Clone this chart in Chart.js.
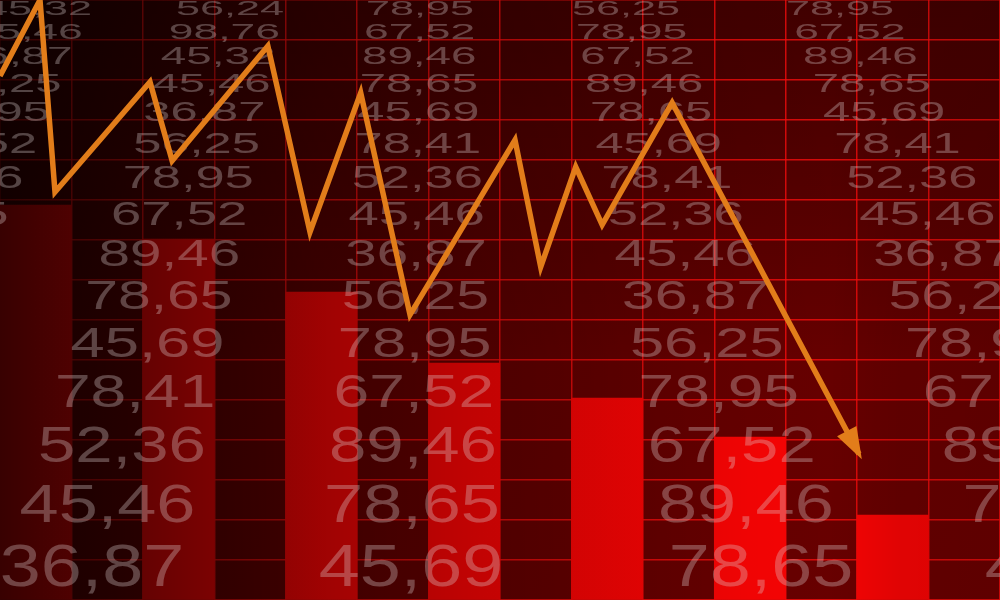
<!DOCTYPE html>
<html>
<head>
<meta charset="utf-8">
<style>
html,body{margin:0;padding:0;background:#000;overflow:hidden}
#wrap{width:1000px;height:600px;position:relative}
canvas{display:block}
</style>
<script src="https://cdn.jsdelivr.net/npm/chart.js@4/dist/chart.umd.min.js"></script>
</head>
<body>
<div id="wrap"><canvas id="c" width="1000" height="600"></canvas></div>
<script>
// ---------- data ----------
const categories = ['P1','P2','P3','P4','P5','P6','P7','P8','P9','P10','P11','P12','P13','P14'];
const barValues  = [9.875, null, 9.025, null, 7.7, null, 5.925, null, 5.05, null, 4.075, null, 2.125, null];
const lineX = [0, 0.56, 0.77, 2.10, 2.41, 3.75, 4.34, 5.05, 5.74, 7.21, 7.57, 8.06, 8.43, 9.41, 12.026];
const lineY = [13.1, 15.0, 10.2, 12.95, 10.98, 13.85, 9.2, 12.68, 7.13, 11.5, 8.33, 10.83, 9.38, 12.43, 3.65];
const tickerValues = ['56,24','98,76','45,32','45,46','36,87','56,25','78,95','67,52','89,46','78,65','45,69','78,41','52,36','45,46','36,87','56,25','78,95','67,52','89,46','78,65','45,69'];
const columnStart = [2, 0, 6, 5, 6];

// ---------- layout (decorative ticker columns) ----------
const colTopX = [38, 230, 420, 626, 840];
const colBottomX = [-227, 92, 411, 761, 1077];
const ROWS = 15;

function lineMeta(chart) {
  for (let i = 0; i < chart.data.datasets.length; i++) {
    const m = chart.getDatasetMeta(i);
    if (m.type === 'line') return m;
  }
  return null;
}

const decoPlugin = {
  id: 'deco',
  beforeDraw(chart) {
    const {ctx, width, height} = chart;
    ctx.save();
    let g = ctx.createLinearGradient(0, 0, width, height);
    g.addColorStop(0, '#5c0000');
    g.addColorStop(1, '#6e0000');
    ctx.fillStyle = g;
    ctx.fillRect(0, 0, width, height);
    g = ctx.createLinearGradient(0, 0, 0, height);
    g.addColorStop(0, 'rgba(0,0,0,0.35)');
    g.addColorStop(0.6, 'rgba(0,0,0,0)');
    ctx.fillStyle = g;
    ctx.fillRect(0, 0, width, height);
    ctx.restore();
  },
  beforeDatasetDraw(chart, args) {
    if (args.meta.type === 'line') return false;
  },
  afterDraw(chart) {
    const {ctx, width, height} = chart;
    ctx.save();
    // shading
    let g = ctx.createLinearGradient(0, 0, width, 0);
    g.addColorStop(0, 'rgba(0,0,0,0.78)');
    g.addColorStop(0.18, 'rgba(0,0,0,0.56)');
    g.addColorStop(0.32, 'rgba(0,0,0,0.38)');
    g.addColorStop(0.465, 'rgba(0,0,0,0.25)');
    g.addColorStop(0.61, 'rgba(0,0,0,0.15)');
    g.addColorStop(0.75, 'rgba(0,0,0,0.06)');
    g.addColorStop(0.83, 'rgba(0,0,0,0.04)');
    g.addColorStop(0.9, 'rgba(0,0,0,0.12)');
    g.addColorStop(1, 'rgba(0,0,0,0.14)');
    ctx.fillStyle = g;
    ctx.fillRect(0, 0, width, height);

    // ticker text
    ctx.fillStyle = 'rgba(225,212,212,0.32)';
    ctx.textAlign = 'center';
    ctx.textBaseline = 'alphabetic';
    for (let c = 0; c < columnStart.length; c++) {
      for (let k = 0; k < ROWS; k++) {
        const txt = tickerValues[columnStart[c] + k];
        if (!txt) continue;
        const dy = 23 * Math.pow(1.08, k);
        const cy = 8 + 23 * (Math.pow(1.08, k) - 1) / 0.08;
        const t = (cy - 8) / 557;
        const cx = colTopX[c] + (colBottomX[c] - colTopX[c]) * t;
        const h = 0.62 * dy;
        const fs = h / 0.716;
        const W = 108 + (dy - 23) * 72 / 42;
        ctx.font = fs.toFixed(2) + 'px "Liberation Sans", Arial, sans-serif';
        const nat = ctx.measureText(txt).width;
        const sx = W / nat;
        ctx.save();
        ctx.translate(cx, cy + h / 2);
        ctx.scale(sx, 1);
        ctx.fillText(txt, 0, 0);
        ctx.restore();
      }
    }
    ctx.restore();

    // line drawn on top
    const meta = lineMeta(chart);
    if (!meta) return;
    meta.controller.draw();

    // arrow head
    const pts = meta.data;
    const p = pts[pts.length - 1], q = pts[pts.length - 2];
    let ux = p.x - q.x, uy = p.y - q.y;
    const L = Math.hypot(ux, uy); ux /= L; uy /= L;
    const nx = -uy, ny = ux;
    const tx = p.x + ux * 6, ty = p.y + uy * 6;
    const bx = tx - ux * 32, by = ty - uy * 32;
    ctx.save();
    ctx.fillStyle = '#e27d1a';
    ctx.beginPath();
    ctx.moveTo(tx, ty);
    ctx.lineTo(bx + nx * 11, by + ny * 11);
    ctx.lineTo(bx - nx * 11, by - ny * 11);
    ctx.closePath();
    ctx.fill();
    ctx.restore();
  }
};

const gridColor = 'rgba(255,12,12,0.8)';

new Chart(document.getElementById('c'), {
  type: 'bar',
  data: {
    labels: categories,
    datasets: [
      {
        type: 'bar',
        order: 1,
        data: barValues,
        backgroundColor: '#ff0404',
        borderWidth: 0,
        grouped: false,
        categoryPercentage: 1,
        barPercentage: 1
      },
      {
        type: 'line',
        order: 0,
        xAxisID: 'xLine',
        data: lineX.map((x, i) => ({x: x, y: lineY[i]})),
        borderColor: '#e27d1a',
        borderWidth: 5.5,
        borderJoinStyle: 'miter',
        borderCapStyle: 'butt',
        pointRadius: 0,
        tension: 0,
        fill: false
      }
    ]
  },
  options: {
    responsive: false,
    animation: false,
    events: [],
    layout: {padding: 0},
    plugins: {legend: {display: false}, tooltip: {enabled: false}},
    scales: {
      x: {
        z: 1,
        grid: {offset: true, color: gridColor, lineWidth: 1.5, drawTicks: false},
        border: {display: false},
        ticks: {display: false}
      },
      xLine: {type: 'linear', display: false, offset: false, min: 0, max: 14, grid: {offset: false}},
      y: {
        z: 1,
        min: 0, max: 15,
        grid: {color: gridColor, lineWidth: 1.5, drawTicks: false},
        border: {display: false},
        ticks: {display: false, stepSize: 1}
      }
    }
  },
  plugins: [decoPlugin]
});
</script>
</body>
</html>
